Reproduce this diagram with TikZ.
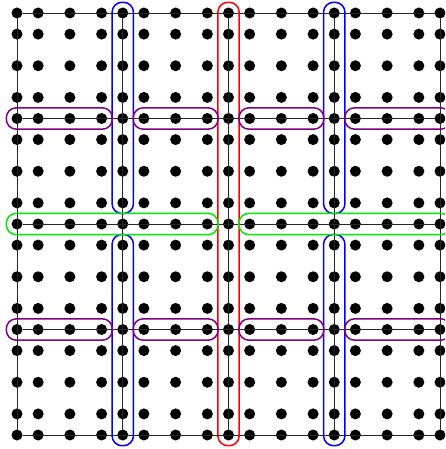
\documentclass[tikz,border=0pt]{standalone}
\usetikzlibrary{fit}
\definecolor{loopblue}{RGB}{0,0,255}
\definecolor{loopred}{RGB}{255,0,0}
\definecolor{loopgreen}{RGB}{0,235,0}
\definecolor{looppurple}{RGB}{128,0,128}
\begin{document}
\begin{tikzpicture}[x=1pt,y=-1pt,
  dot/.style={circle,fill=black,inner sep=0pt,outer sep=0pt,minimum size=11pt},
  gridline/.style={draw=black!85,line width=0.8pt},
  loopbox/.style={draw=#1,line width=1.5pt,rounded corners=10pt,inner sep=5.2pt,outer sep=0pt}]
\useasboundingbox (0,0) rectangle (445,449);
\clip (0,0) rectangle (445,449);
\foreach \i/\px in {0/17,1/38.15,2/69.875,3/101.6,4/122.75,5/143.9,6/175.625,7/207.35,8/228.5,9/249.65,10/281.375,11/313.1,12/334.25,13/355.4,14/387.125,15/418.85,16/440}
  \foreach \j/\py in {0/13,1/34.1,2/65.75,3/97.4,4/118.5,5/139.6,6/171.25,7/202.9,8/224,9/245.1,10/276.75,11/308.4,12/329.5,13/350.6,14/382.25,15/413.9,16/435}
    \node[dot] (d-\i-\j) at (\px,\py) {};
\foreach \k in {0,4,8,12,16} {
  \draw[gridline] (d-0-\k) -- (d-16-\k);
  \draw[gridline] (d-\k-0) -- (d-\k-16);
}
% red column
\node[loopbox=loopred, fit=(d-8-0)(d-8-16)] (r1) {};
% blue columns
\node[loopbox=loopblue, fit=(d-4-0)(d-4-7)] (b1) {};
\node[loopbox=loopblue, fit=(d-4-9)(d-4-16)] (b2) {};
\node[loopbox=loopblue, fit=(d-12-0)(d-12-7)] (b3) {};
\node[loopbox=loopblue, fit=(d-12-9)(d-12-16)] (b4) {};
% green row
\node[loopbox=loopgreen, fit=(d-0-8)(d-7-8)] (g1) {};
\node[loopbox=loopgreen, fit=(d-9-8)(d-16-8)] (g2) {};
% purple rows
\foreach \r in {4,12} {
  \node[loopbox=looppurple, fit=(d-0-\r)(d-3-\r)] (p1-\r) {};
  \node[loopbox=looppurple, fit=(d-5-\r)(d-7-\r)] (p2-\r) {};
  \node[loopbox=looppurple, fit=(d-9-\r)(d-11-\r)] (p3-\r) {};
  \node[loopbox=looppurple, fit=(d-13-\r)(d-16-\r)] (p4-\r) {};
}
\end{tikzpicture}
\end{document}
